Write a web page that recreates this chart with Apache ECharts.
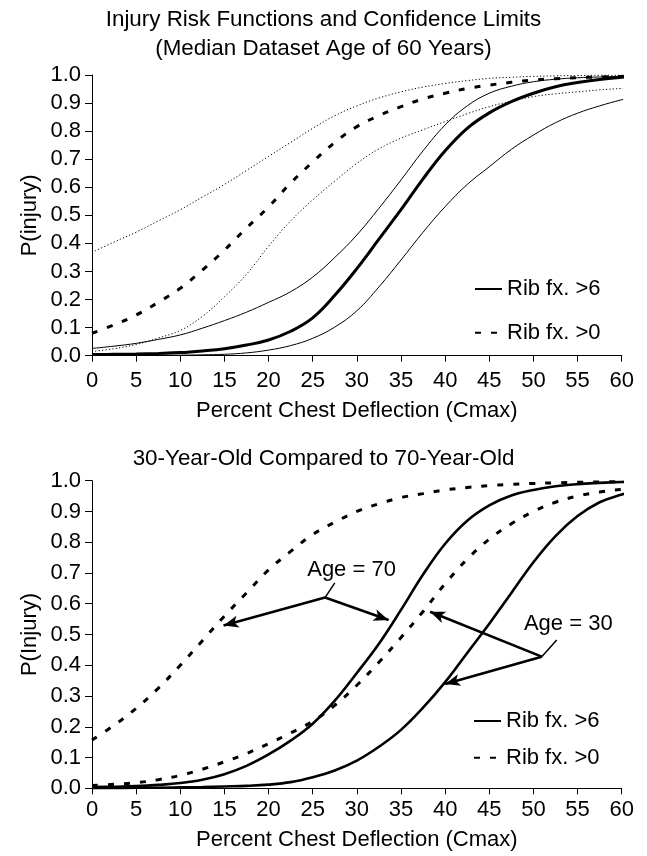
<!DOCTYPE html>
<html>
<head>
<meta charset="utf-8">
<script src="https://cdn.jsdelivr.net/npm/echarts@6/dist/echarts.min.js"></script>
<style>
html,body{margin:0;padding:0;background:#fff;}
#c{width:647px;height:856px;}
</style>
</head>
<body>
<div id="c"></div>
<script>
// ---- Data (percent chest deflection, x) ----
const deflection = [0,2.5,5,7.5,10,12.5,15,17.5,20,22.5,25,27.5,30,32.5,35,37.5,40,42.5,45,47.5,50,52.5,55,57.5,60,61];

// Top chart: median-age (60 yr) risk curves and confidence limits
const topRib6       = [0.004,0.005,0.006,0.008,0.011,0.017,0.025,0.038,0.056,0.087,0.135,0.215,0.31,0.415,0.52,0.63,0.73,0.81,0.865,0.905,0.935,0.958,0.973,0.984,0.992,0.994];
const topRib6Upper  = [0.026,0.034,0.044,0.058,0.074,0.098,0.125,0.155,0.19,0.228,0.28,0.35,0.43,0.525,0.626,0.73,0.822,0.89,0.935,0.96,0.976,0.985,0.99,0.993,0.995,0.995];
const topRib6Lower  = [0.001,0.001,0.001,0.002,0.002,0.003,0.005,0.01,0.02,0.036,0.062,0.102,0.16,0.245,0.341,0.44,0.531,0.61,0.673,0.735,0.786,0.83,0.864,0.89,0.912,0.92];
const topRib0       = [0.08,0.11,0.145,0.19,0.24,0.305,0.376,0.455,0.53,0.615,0.69,0.76,0.816,0.855,0.887,0.915,0.935,0.952,0.964,0.974,0.982,0.987,0.99,0.993,0.995,0.995];
const topRib0Upper  = [0.368,0.405,0.44,0.48,0.52,0.565,0.61,0.66,0.71,0.76,0.81,0.855,0.89,0.918,0.94,0.957,0.97,0.98,0.988,0.992,0.995,0.997,0.998,0.999,0.999,0.999];
const topRib0Lower  = [0.015,0.025,0.04,0.063,0.09,0.14,0.21,0.29,0.39,0.48,0.555,0.622,0.685,0.737,0.775,0.805,0.834,0.862,0.887,0.907,0.923,0.933,0.94,0.947,0.952,0.953];

// Bottom chart: 30-year-old vs 70-year-old
const botRib6Age70  = [0.004,0.005,0.007,0.011,0.017,0.028,0.046,0.073,0.11,0.155,0.21,0.285,0.375,0.47,0.58,0.695,0.795,0.87,0.92,0.952,0.97,0.982,0.989,0.993,0.996,0.997];
const botRib6Age30  = [0.001,0.001,0.002,0.002,0.003,0.004,0.006,0.008,0.012,0.02,0.036,0.058,0.09,0.135,0.19,0.262,0.345,0.44,0.535,0.635,0.735,0.82,0.885,0.93,0.955,0.964];
const botRib0Age70  = [0.157,0.205,0.26,0.325,0.40,0.48,0.56,0.635,0.71,0.77,0.825,0.865,0.90,0.925,0.945,0.958,0.97,0.978,0.984,0.988,0.991,0.993,0.995,0.996,0.997,0.997];
const botRib0Age30  = [0.009,0.013,0.018,0.028,0.042,0.062,0.086,0.113,0.145,0.18,0.218,0.27,0.335,0.41,0.49,0.575,0.665,0.745,0.81,0.86,0.90,0.93,0.95,0.963,0.972,0.975];

// Annotations (data coordinates of bottom chart)
const age70Text   = [29.4, 0.71];
const age70Vertex = [26.4, 0.62];
const age70Leader = [27.5, 0.668];
const age70Tips   = [[14.9, 0.529], [33.6, 0.547]];
const age30Text   = [53.95, 0.534];
const age30Vertex = [50.94, 0.428];
const age30Leader = [52.64, 0.482];
const age30Tips   = [[38.3, 0.574], [40.0, 0.339]];

// Texts
const topTitle = 'Injury Risk Functions and Confidence Limits\n(Median Dataset Age of 60 Years)';
const botTitle = '30-Year-Old Compared to 70-Year-Old';
const xName = 'Percent Chest Deflection (Cmax)';
const legendNames = ['Rib fx. >6', 'Rib fx. >0'];

// ---- Chart ----
const FONT = "'Liberation Sans', Arial, Helvetica, sans-serif";
const chart = echarts.init(document.getElementById('c'), null, {renderer: 'canvas'});
const pairs = ys => deflection.map((x, i) => [x, ys[i]]);

function xAxisCfg(gi, nameGap, margin) {
  return {
    gridIndex: gi, type: 'value', min: 0, max: 60, interval: 5,
    name: xName, nameLocation: 'middle', nameGap: nameGap, nameMoveOverlap: false,
    nameTextStyle: {fontSize: 22, color: '#000', fontFamily: FONT},
    axisLine: {show: true, onZero: false, lineStyle: {color: '#000', width: 1}},
    axisTick: {show: true, inside: false, length: 6, lineStyle: {color: '#000', width: 1}},
    axisLabel: {fontSize: 22, color: '#000', fontFamily: FONT, margin: margin,
                showMinLabel: true, showMaxLabel: true, hideOverlap: false},
    splitLine: {show: false}
  };
}
function yAxisCfg(gi, name) {
  return {
    gridIndex: gi, type: 'value', min: 0, max: 1, interval: 0.1,
    name: name, nameLocation: 'middle', nameGap: 51, nameRotate: 90, nameMoveOverlap: false,
    nameTextStyle: {fontSize: 22, color: '#000', fontFamily: FONT},
    axisLine: {show: true, onZero: false, lineStyle: {color: '#000', width: 1}},
    axisTick: {show: true, inside: false, length: 7, lineStyle: {color: '#000', width: 1}},
    axisLabel: {fontSize: 22, color: '#000', fontFamily: FONT, margin: 11,
                formatter: v => v.toFixed(1), showMinLabel: true, showMaxLabel: true, hideOverlap: false},
    splitLine: {show: false}
  };
}
function lineSeries(name, gi, ys, width, type, extra) {
  return Object.assign({
    name: name, type: 'line', xAxisIndex: gi, yAxisIndex: gi,
    data: pairs(ys), showSymbol: false, symbol: 'none',
    smooth: 0.4, clip: false, silent: true,
    lineStyle: {color: '#000', width: width, type: type, cap: 'butt'},
    itemStyle: {color: '#000'}
  }, extra || {});
}
const DOT = [1.2, 2.2];
const DASH = [6, 10];

const arrowLine = (from, to) => [{coord: from, symbol: 'none'}, {coord: to, symbol: 'arrow'}];
const leaderLine = (from, to) => [{coord: from, symbol: 'none', lineStyle: {width: 1.5}}, {coord: to, symbol: 'none'}];

const legendBase = {
  data: legendNames, orient: 'vertical', padding: 0,
  itemWidth: 27, itemHeight: 14, selectedMode: false,
  itemStyle: {color: 'rgba(0,0,0,0)', borderWidth: 0, opacity: 0},
  textStyle: {fontSize: 22, color: '#000', fontFamily: FONT, lineHeight: 22}
};

const option = {
  animation: false,
  backgroundColor: '#fff',
  textStyle: {fontFamily: FONT},
  title: [
    {text: topTitle, left: 'center', top: 6, padding: 0,
     textStyle: {fontSize: 22.4, fontWeight: 'normal', color: '#000', lineHeight: 28.4, fontFamily: FONT}},
    {text: botTitle, left: 'center', top: 448, padding: 0,
     textStyle: {fontSize: 22.4, fontWeight: 'normal', color: '#000', lineHeight: 22, fontFamily: FONT}}
  ],
  legend: [
    Object.assign({}, legendBase, {left: 474, top: 278, itemGap: 21.7}),
    Object.assign({}, legendBase, {left: 473, top: 710, itemGap: 14.7})
  ],
  grid: [
    {left: 92, top: 75, width: 529.7, height: 280.7, containLabel: false, outerBoundsMode: 'none'},
    {left: 92, top: 480.7, width: 529.7, height: 307.6, containLabel: false, outerBoundsMode: 'none'}
  ],
  xAxis: [xAxisCfg(0, 44, 14), xAxisCfg(1, 41, 11)],
  yAxis: [yAxisCfg(0, 'P(injury)'), yAxisCfg(1, 'P(Injury)')],
  series: [
    lineSeries('Rib fx. >6', 0, topRib6, 3, 'solid'),
    lineSeries('Rib fx. >0', 0, topRib0, 3, DASH),
    lineSeries('Rib fx. >6 upper limit', 0, topRib6Upper, 1, 'solid'),
    lineSeries('Rib fx. >6 lower limit', 0, topRib6Lower, 1, 'solid'),
    lineSeries('Rib fx. >0 upper limit', 0, topRib0Upper, 1, DOT),
    lineSeries('Rib fx. >0 lower limit', 0, topRib0Lower, 1, DOT),
    lineSeries('Rib fx. >6', 1, botRib6Age70, 2.6, 'solid', {
      markLine: {
        silent: true, animation: false, symbolSize: [9, 15],
        label: {show: false},
        lineStyle: {color: '#000', width: 2.6, type: 'solid'},
        itemStyle: {color: '#000'},
        data: [
          arrowLine(age70Vertex, age70Tips[0]),
          arrowLine(age70Vertex, age70Tips[1]),
          leaderLine(age70Vertex, age70Leader),
          arrowLine(age30Vertex, age30Tips[0]),
          arrowLine(age30Vertex, age30Tips[1]),
          leaderLine(age30Vertex, age30Leader)
        ]
      },
      markPoint: {
        silent: true, animation: false, symbol: 'circle', symbolSize: 1,
        itemStyle: {color: 'rgba(0,0,0,0)'},
        label: {show: true, position: 'inside', fontSize: 22, color: '#000', fontFamily: FONT},
        data: [
          {coord: age70Text, label: {formatter: 'Age = 70'}},
          {coord: age30Text, label: {formatter: 'Age = 30'}}
        ]
      }
    }),
    lineSeries('Rib fx. >6', 1, botRib6Age30, 2.6, 'solid'),
    lineSeries('Rib fx. >0', 1, botRib0Age70, 3, DASH),
    lineSeries('Rib fx. >0', 1, botRib0Age30, 3, DASH)
  ]
};
chart.setOption(option);
</script>
</body>
</html>
